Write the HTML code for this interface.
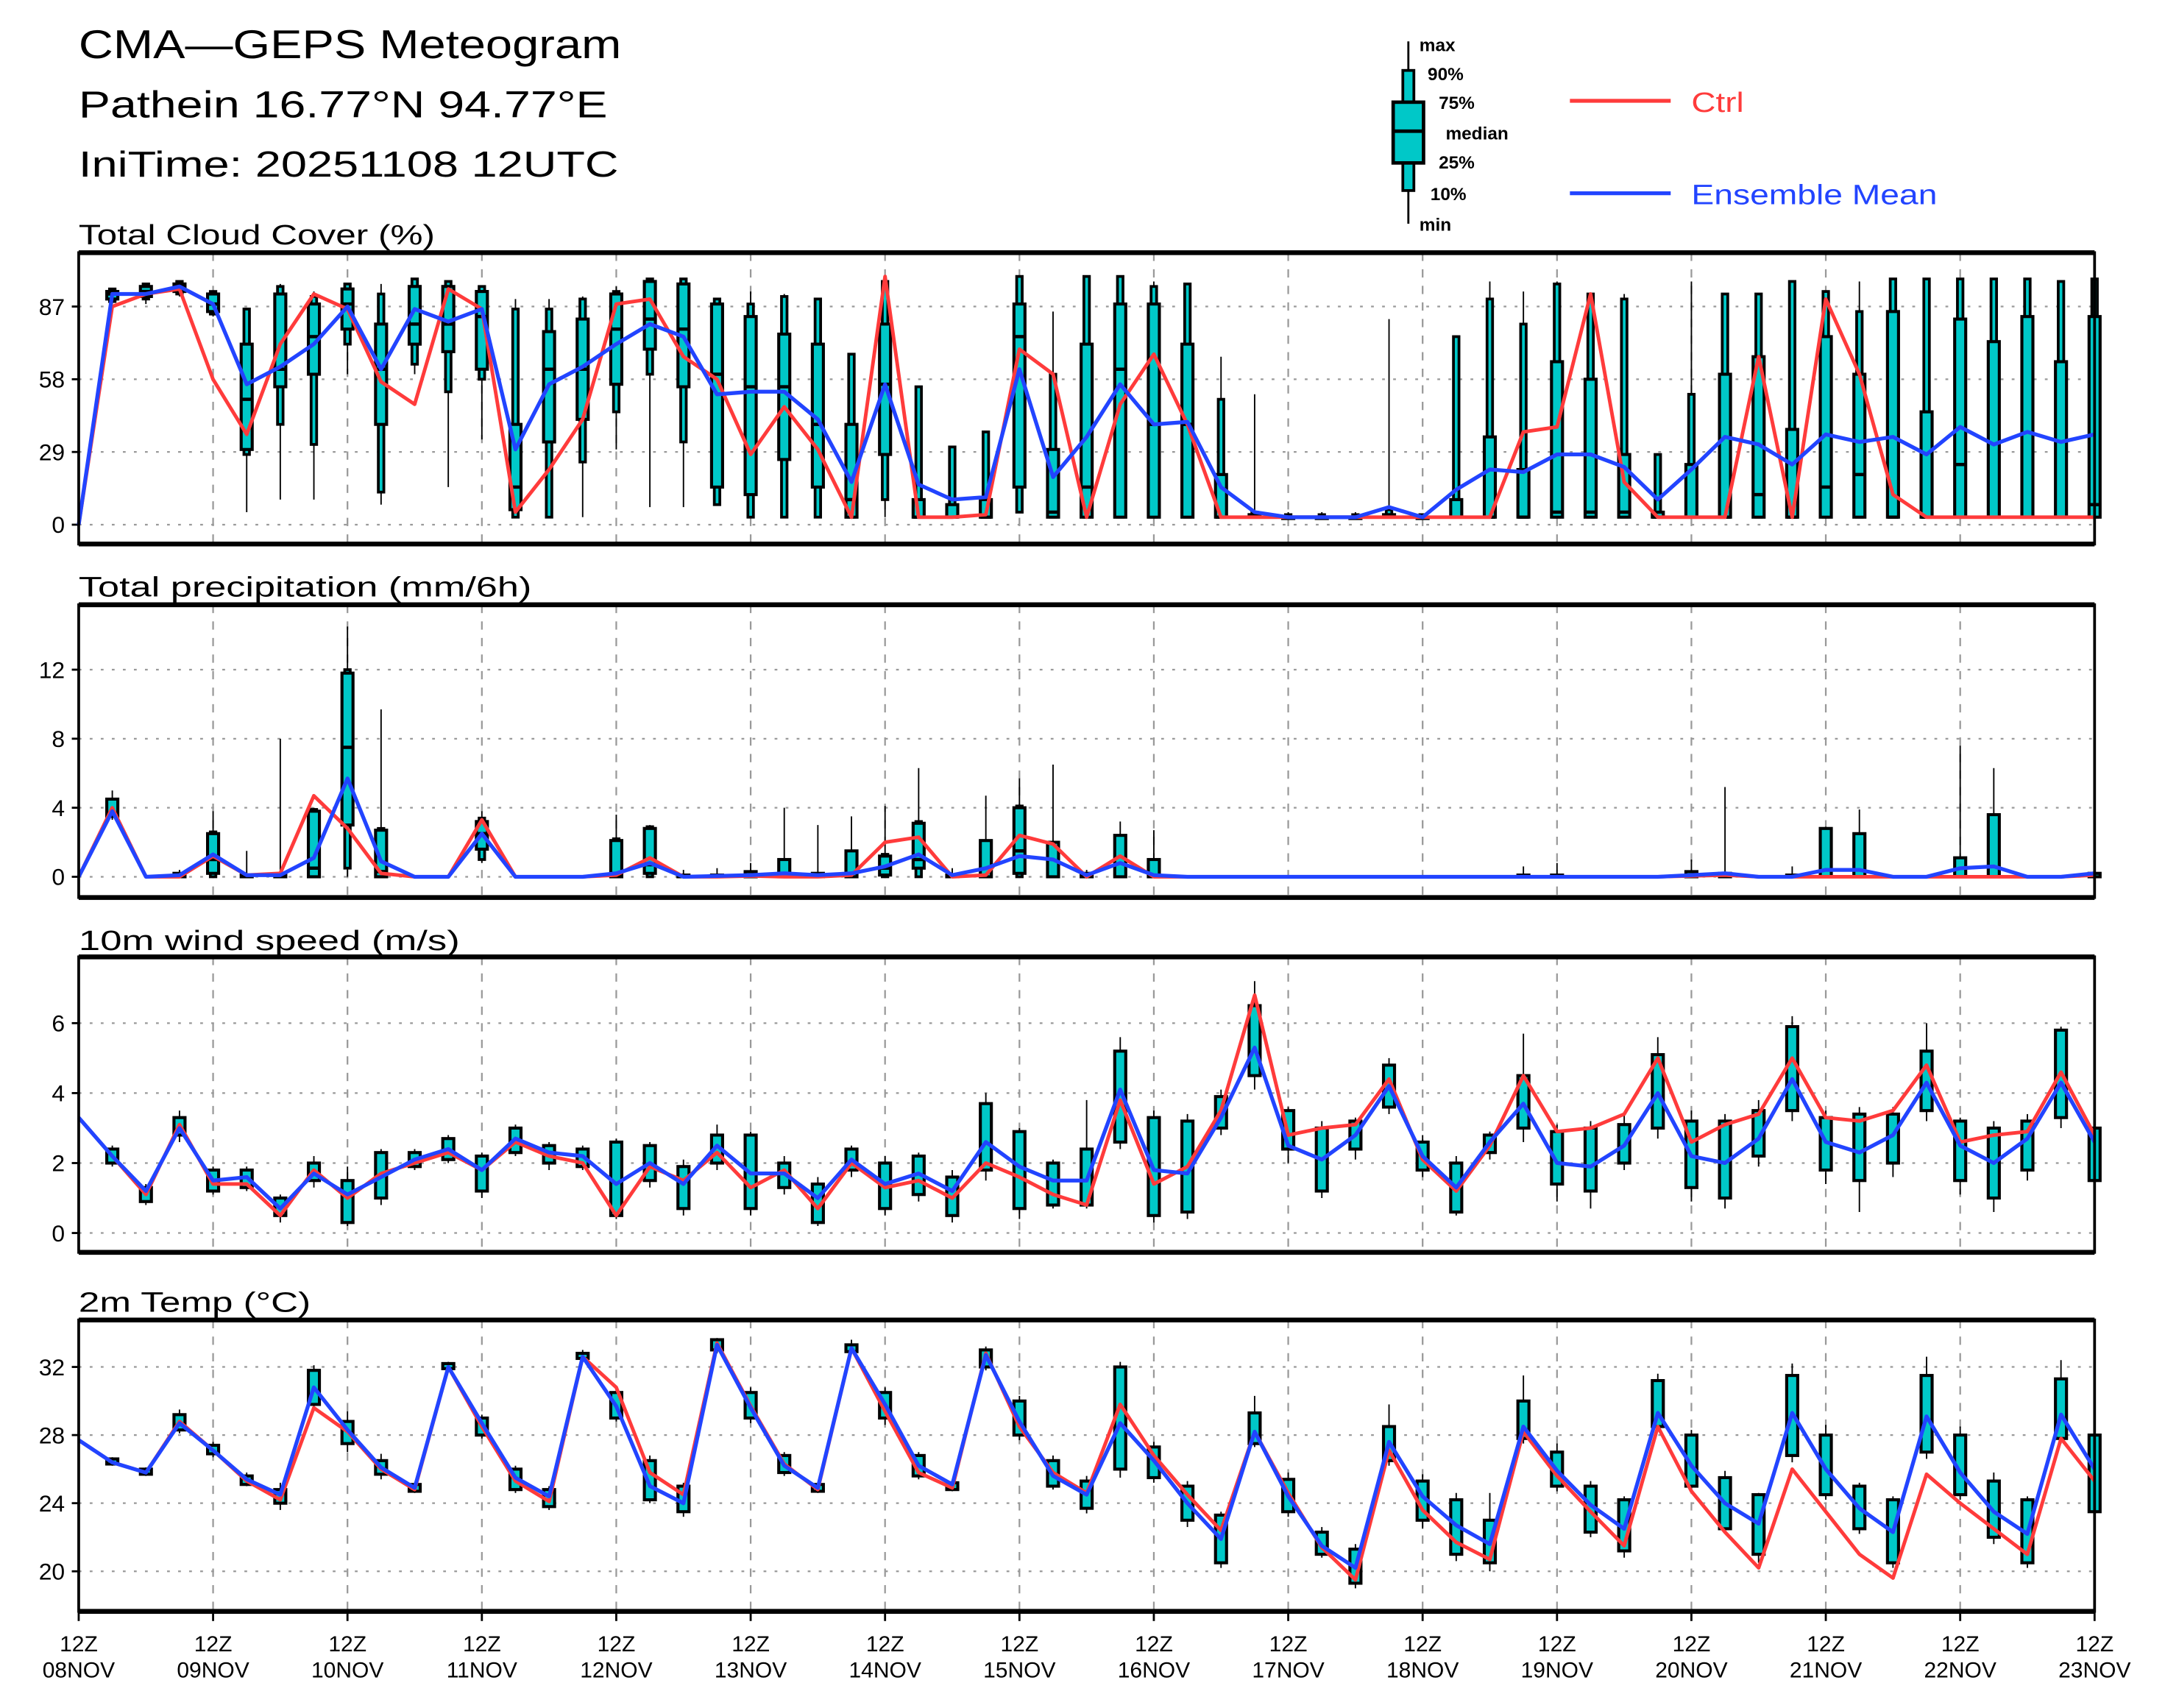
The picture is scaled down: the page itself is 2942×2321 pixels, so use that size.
<!DOCTYPE html>
<html><head><meta charset="utf-8"><title>CMA-GEPS Meteogram</title>
<style>html,body{margin:0;padding:0;background:#fff}svg{display:block}text{font-family:"Liberation Sans",sans-serif}</style>
</head><body>
<svg id="chart" xmlns="http://www.w3.org/2000/svg" width="2942" height="2321" viewBox="0 0 1568 1237" preserveAspectRatio="none">
<rect x="0" y="0" width="1568" height="1237" fill="#fff"/>
<g>
<text x="57" y="42" font-size="29" textLength="393" lengthAdjust="spacingAndGlyphs">CMA—GEPS Meteogram</text>
<text x="57" y="85" font-size="27" textLength="383" lengthAdjust="spacingAndGlyphs">Pathein 16.77°N 94.77°E</text>
<text x="57" y="128" font-size="26" textLength="391" lengthAdjust="spacingAndGlyphs">IniTime: 20251108 12UTC</text>
</g>
<g font-weight="bold" font-size="13">
<line x1="1020" y1="30" x2="1020" y2="162" stroke="#000" stroke-width="1.5"/>
<rect x="1016" y="51" width="8" height="87" fill="#00c8c8" stroke="#000" stroke-width="2"/>
<rect x="1009" y="74" width="22" height="44" fill="#00c8c8" stroke="#000" stroke-width="2.5"/>
<line x1="1009" y1="95" x2="1031" y2="95" stroke="#000" stroke-width="2.5"/>
<text x="1028" y="37">max</text>
<text x="1034" y="58">90%</text>
<text x="1042" y="79">75%</text>
<text x="1047" y="101">median</text>
<text x="1042" y="122">25%</text>
<text x="1036" y="145">10%</text>
<text x="1028" y="167">min</text>
<line x1="1137" y1="73" x2="1210" y2="73" stroke="#ff3b3b" stroke-width="2.8"/>
<text x="1225" y="81" font-size="20" font-weight="normal" fill="#ff3b3b" textLength="38" lengthAdjust="spacingAndGlyphs">Ctrl</text>
<line x1="1137" y1="140" x2="1210" y2="140" stroke="#2244ff" stroke-width="2.8"/>
<text x="1225" y="148" font-size="20" font-weight="normal" fill="#2244ff" textLength="178" lengthAdjust="spacingAndGlyphs">Ensemble Mean</text>
</g>
</svg>
<script>
// ---- data ----
const timeLabels = ["08NOV","09NOV","10NOV","11NOV","12NOV","13NOV","14NOV","15NOV","16NOV","17NOV","18NOV","19NOV","20NOV","21NOV","22NOV","23NOV"];
const cloudTicks = [0,29,58,87];
const precipTicks = [0,4,8,12];
const windTicks = [0,2,4,6];
const tempTicks = [20,24,28,32];

const cloudCtrl = [0,87,92,94,58,36,72,92,86,57,48,94,86,5,22,42,88,90,67,58,28,47,30,3,99,3,3,4,70,60,3,48,68,40,3,3,3,3,3,3,3,3,3,37,39,92,17,3,3,3,67,3,90,60,12,3,3,3,3,3,3];
const cloudMean = [0,92,92,95,88,56,63,72,87,62,86,81,86,30,56,63,72,80,75,52,53,53,42,17,56,16,10,11,62,19,35,56,40,41,15,5,3,3,3,7,3,14,22,21,28,28,23,10,22,35,32,24,36,33,35,28,39,32,37,33,36];
const cloudBoxes = [null,[88,89,90,92,93,94,94],[88,90,91,93,95,96,96],[91,92,93,95,96,97,97],[83,84,85,88,92,93,93],[5,28,30,50,72,86,86],[10,40,55,62,92,95,96],[10,32,60,75,88,91,93],[60,72,78,88,94,96,96],[8,13,40,62,80,92,96],[60,64,72,80,95,98,98],[15,53,69,80,95,97,97],[34,58,62,83,93,95,95],[3,3,6,15,40,86,90],[3,3,33,62,77,86,90],[3,25,42,62,82,90,91],[30,45,56,78,92,93,95],[7,60,70,82,97,98,98],[7,33,55,78,96,98,98],[8,8,15,60,88,90,90],[3,3,12,55,83,88,93],[3,3,26,55,76,91,92],[3,3,15,40,72,90,90],[3,3,3,10,40,68,68],[3,10,28,56,80,97,97],[3,3,3,3,10,55,55],[3,3,3,3,8,31,31],[3,3,3,3,10,37,37],[5,5,15,75,88,99,99],[3,3,3,5,30,60,85],[3,3,3,15,72,99,99],[3,3,3,62,88,99,99],[3,3,3,40,88,95,97],[3,3,3,40,72,96,96],[3,3,3,3,20,50,67],[3,3,3,3,4,5,52],[3,3,3,3,3,4,5],[3,3,3,3,3,4,5],[3,3,3,3,3,4,5],[3,3,3,3,4,6,82],[3,3,3,3,3,4,4],[3,3,3,3,10,75,75],[3,3,3,3,35,90,97],[3,3,3,3,22,80,93],[3,3,3,5,65,96,97],[3,3,3,5,58,92,92],[3,3,3,5,28,90,92],[3,3,3,3,5,28,28],[3,3,3,3,24,52,97],[3,3,3,3,60,92,92],[3,3,3,12,67,92,92],[3,3,3,3,38,97,97],[3,3,3,15,75,93,93],[3,3,3,20,60,85,97],[3,3,3,3,85,98,98],[3,3,3,3,45,98,98],[3,3,3,24,82,98,98],[3,3,3,3,73,98,98],[3,3,3,3,83,98,98],[3,3,3,3,65,97,97],[3,3,3,8,83,98,98]];

const precipCtrl = [0,4.0,0,0,1.2,0.1,0.2,4.7,2.8,0.2,0,0,3.3,0,0,0,0.1,1.1,0,0,0.05,0,0,0.1,2.0,2.3,0,0.1,2.4,1.9,0,1.2,0,0,0,0,0,0,0,0,0,0,0,0,0,0,0,0,0.05,0.1,0,0,0,0,0,0,0,0,0,0,0.1];
const precipMean = [0,3.8,0,0.1,1.3,0.1,0.1,1.1,5.7,0.9,0,0,2.5,0,0,0,0.2,0.8,0,0.05,0.1,0.2,0.1,0.2,0.6,1.3,0.1,0.5,1.2,1.0,0.1,0.8,0.1,0,0,0,0,0,0,0,0,0,0,0,0,0,0,0,0.1,0.2,0,0,0.4,0.4,0,0,0.5,0.6,0,0,0.2];
const precipBoxes = [null,[3.3,3.5,4.5,5.0],null,[0,0,0.2,0.4],[0,0,0.2,1,2.5,2.6,3.8],[0,0,0.1,1.5],[0,0,0.1,8],[0,0,0,0.5,3.8,3.9,4.0],[0,0.5,3,7.5,11.8,12,14.5],[0,0,0,0.3,2.7,2.8,9.7],null,null,[0.8,1,1.6,2.5,3.2,3.4,3.8],null,null,null,[0,0,0,0.2,2.1,2.2,3.6],[0,0,0.2,0.7,2.8,2.9,3.0],[0,0,0.1,0.4],[0,0,0.1,0.5],[0,0,0.3,0.8],[0,0,1,4],[0,0,0.2,3],[0,0,1.5,3.5],[0,0,0.1,0.5,1.2,1.3,4.1],[0,0,0.5,1,3.1,3.2,6.3],[0,0,0.1,0.5],[0,0,2.1,4.7],[0,0,0.2,1.5,4,4.1,5.7],[0,0,2,6.5],[0,0,0.2,0.4],[0,0,2.4,3.2],[0,0,1,2.7],null,null,null,null,null,null,null,null,null,null,[0,0,0.1,0.6],[0,0,0.1,0.8],null,null,null,[0,0,0.3,1],[0,0,0.2,5.2],null,[0,0,0.1,0.6],[0,0,2.8,2.9],[0,0,2.5,3.9],null,null,[0,0,1.1,7.6],[0,0,3.6,6.3],null,null,[0,0,0.2,0.3]];

const windCtrl = [3.3,2.2,1.1,3.1,1.4,1.4,0.5,1.8,1.0,1.7,2.0,2.3,1.8,2.6,2.2,2.0,0.5,1.9,1.5,2.3,1.3,1.8,0.7,2.0,1.3,1.5,1.0,2.0,1.6,1.1,0.8,3.8,1.4,1.9,3.5,6.8,2.8,3.0,3.1,4.4,2.1,1.2,2.5,4.5,2.9,3.0,3.4,5.0,2.6,3.1,3.4,5.0,3.3,3.2,3.5,4.8,2.6,2.8,2.9,4.6,2.8];
const windMean = [3.3,2.2,1.2,3.0,1.5,1.6,0.7,1.7,1.1,1.6,2.1,2.4,1.8,2.7,2.3,2.2,1.4,2.0,1.4,2.5,1.7,1.7,1.0,2.1,1.4,1.7,1.2,2.6,1.9,1.5,1.5,4.1,1.8,1.7,3.3,5.3,2.5,2.1,2.8,4.2,2.2,1.3,2.6,3.7,2.0,1.9,2.5,4.0,2.2,2.0,2.7,4.4,2.6,2.3,2.8,4.3,2.5,2.0,2.7,4.3,2.6];
const windBoxes = [null,[1.9,2.0,2.4,2.5],[0.8,0.9,1.3,1.4],[2.6,2.8,3.3,3.5],[1.1,1.2,1.8,1.9],[1.2,1.3,1.8,1.9],[0.3,0.5,1.0,1.1],[1.3,1.5,2.0,2.2],[0.2,0.3,1.5,1.9],[0.8,1.0,2.3,2.4],[1.8,1.9,2.3,2.4],[2.0,2.1,2.7,2.8],[1.0,1.2,2.2,2.3],[2.2,2.3,3.0,3.1],[1.8,2.0,2.5,2.6],[1.8,1.9,2.4,2.5],[0.4,0.5,2.6,2.7],[1.3,1.5,2.5,2.6],[0.5,0.7,1.9,2.1],[1.8,2.0,2.8,3.1],[0.5,0.7,2.8,2.9],[1.1,1.3,2.0,2.2],[0.2,0.3,1.4,1.6],[1.6,1.8,2.4,2.5],[0.5,0.7,2.0,2.2],[0.9,1.1,2.2,2.3],[0.3,0.5,1.6,1.8],[1.5,1.8,3.7,4.0],[0.4,0.7,2.9,3.0],[0.7,0.8,2.0,2.1],[0.7,0.8,2.4,3.8],[2.4,2.6,5.2,5.6],[0.3,0.5,3.3,3.5],[0.4,0.6,3.2,3.4],[2.8,3.0,3.9,4.1],[4.1,4.5,6.5,7.2],[2.0,2.4,3.5,3.6],[1.0,1.2,3.0,3.2],[2.1,2.4,3.2,3.3],[3.4,3.6,4.8,5.0],[1.6,1.8,2.6,2.8],[0.5,0.6,2.0,2.2],[2.1,2.3,2.8,2.9],[2.6,3.0,4.5,5.7],[0.9,1.4,2.9,3.1],[0.7,1.2,3.0,3.2],[1.8,2.0,3.1,3.4],[2.7,3.0,5.1,5.6],[0.9,1.3,3.2,3.5],[0.7,1.0,3.2,3.4],[1.9,2.2,3.5,3.8],[3.2,3.5,5.9,6.2],[1.4,1.8,3.3,3.5],[0.6,1.5,3.4,3.6],[1.6,2.0,3.4,3.6],[3.2,3.5,5.2,6.0],[1.1,1.5,3.2,3.3],[0.6,1.0,3.0,3.2],[1.5,1.8,3.2,3.4],[3.0,3.3,5.8,5.9],[1.1,1.5,3.0,3.1]];

const tempCtrl = [27.7,26.4,25.8,28.8,27.1,25.3,24.2,29.6,28.2,26.0,24.8,32.0,28.5,25.3,24.1,32.6,30.8,25.8,24.5,33.4,29.7,26.3,24.8,33.1,29.4,25.8,24.9,32.8,28.5,25.8,24.6,29.8,26.8,24.5,22.4,28.2,24.6,21.4,19.5,27.1,23.6,21.7,20.7,28.2,25.6,23.5,21.5,28.5,24.7,22.3,20.2,26.0,23.5,21.0,19.6,25.7,24.0,22.5,21.0,27.8,25.3];
const tempMean = [27.7,26.4,25.8,28.7,27.1,25.4,24.5,30.8,28.3,26.1,24.9,32.0,28.7,25.5,24.4,32.6,29.7,25.0,24.0,33.3,29.6,26.2,24.9,33.1,29.8,26.2,25.1,32.7,28.8,25.6,24.5,28.7,26.5,24.0,21.9,28.2,24.4,21.5,20.2,27.6,24.4,22.7,21.6,28.5,25.9,23.9,22.5,29.3,26.2,24.0,22.8,29.3,26.0,23.7,22.3,29.1,25.8,23.5,22.2,29.2,26.0];
const tempBoxes = [null,[26.2,26.3,26.6,26.7],[25.6,25.7,26.0,26.1],[28.1,28.3,29.2,29.5],[26.7,26.9,27.4,27.6],[25.0,25.1,25.6,25.8],[23.6,24.0,24.8,25.2],[29.4,29.8,31.8,32.1],[27.0,27.5,28.8,29.4],[25.4,25.7,26.5,26.9],[24.6,24.7,25.1,25.2],[31.8,31.9,32.2,32.3],[27.8,28.0,29.0,29.2],[24.6,24.8,26.0,26.2],[23.6,23.8,24.8,25.0],[32.4,32.5,32.8,33.0],[28.8,29.0,30.5,30.8],[24.0,24.2,26.5,26.8],[23.2,23.5,25.0,25.2],[32.8,33.0,33.6,33.7],[28.7,29.0,30.5,30.8],[25.6,25.8,26.8,27.0],[24.6,24.7,25.1,25.2],[32.8,32.9,33.3,33.6],[28.6,29.0,30.5,30.8],[25.4,25.6,26.8,27.0],[24.7,24.8,25.2,25.3],[31.8,32.0,33.0,33.2],[27.7,28.0,30.0,30.3],[24.8,25.0,26.5,26.8],[23.4,23.7,25.3,25.6],[25.5,26.0,32.0,32.3],[25.2,25.5,27.3,27.6],[22.6,23.0,25.0,25.3],[20.2,20.5,23.3,23.5],[27.3,27.5,29.3,30.3],[23.2,23.5,25.4,25.8],[20.8,21.0,22.3,22.6],[19.0,19.3,21.3,21.6],[26.2,26.5,28.5,29.8],[22.5,23.0,25.3,25.7],[20.6,21.0,24.2,24.6],[20.0,20.5,23.0,24.6],[27.5,27.8,30.0,31.5],[24.7,25.0,27.0,27.5],[22.0,22.3,25.0,25.3],[20.8,21.2,24.2,24.4],[28.2,28.5,31.2,31.6],[24.6,25.0,28.0,28.3],[22.2,22.5,25.5,25.9],[20.5,21.0,24.5,24.6],[26.4,26.8,31.5,32.2],[24.2,24.5,28.0,28.6],[22.2,22.5,25.0,25.2],[20.2,20.5,24.2,24.4],[26.6,27.0,31.5,32.6],[24.2,24.5,28.0,28.5],[21.6,22.0,25.3,25.8],[20.2,20.5,24.2,24.4],[27.5,27.8,31.3,32.4],[23.2,23.5,28.0,28.3]];

// ---- layout ----
const svg = document.getElementById('chart');
const NS = 'http://www.w3.org/2000/svg';
const X0 = 57, X1 = 1517, NSTEP = 60;
function xAt(i){ return X0 + (X1 - X0) * i / NSTEP; }
function mk(tag, attrs, parent){ const e = document.createElementNS(NS, tag); for (const k in attrs) e.setAttribute(k, attrs[k]); (parent||svg).appendChild(e); return e; }

const panels = [
 {name:'cloud', title:'Total Cloud Cover (%)', tl:258, top:183, bottom:394, v0:0, p0:380, v1:87, p1:222, ticks:cloudTicks, ctrl:cloudCtrl, mean:cloudMean, boxes:cloudBoxes, titleY:177},
 {name:'precip', title:'Total precipitation (mm/6h)', tl:328, top:438, bottom:650, v0:0, p0:635, v1:12, p1:485, ticks:precipTicks, ctrl:precipCtrl, mean:precipMean, boxes:precipBoxes, titleY:432},
 {name:'wind', title:'10m wind speed (m/s)', tl:276, top:693, bottom:907, v0:0, p0:893, v1:6, p1:741, ticks:windTicks, ctrl:windCtrl, mean:windMean, boxes:windBoxes, titleY:688},
 {name:'temp', title:'2m Temp (°C)', tl:168, top:956, bottom:1167, v0:20, p0:1138, v1:32, p1:990, ticks:tempTicks, ctrl:tempCtrl, mean:tempMean, boxes:tempBoxes, titleY:950}
];

panels.forEach(function(p){
  const y = function(v){ return p.p0 + (v - p.v0) * (p.p1 - p.p0) / (p.v1 - p.v0); };
  const g = mk('g', {});
  
  
  const t = mk('text', {x:57, y:p.titleY, 'font-size':20, textLength:p.tl, lengthAdjust:'spacingAndGlyphs'}, g);
  t.textContent = p.title;
  
  
  for (let d = 1; d < timeLabels.length - 1; d++){
    const gx = xAt(d * 4);
    const l = mk('line', {x1:gx, x2:gx, y1:p.top, y2:p.bottom, stroke:'#999', 'stroke-width':1.2, 'stroke-dasharray':'6,6'}, g);
    
    
  }
  p.ticks.forEach(function(v){
    const ty = y(v);
    const l = mk('line', {x1:X0, x2:X1, y1:ty, y2:ty, stroke:'#999', 'stroke-width':1.2, 'stroke-dasharray':'2,6'}, g);
    
    
    const tk = mk('line', {x1:X0-5, x2:X0, y1:ty, y2:ty, stroke:'#000', 'stroke-width':1.5}, g);
    
    
    const lab = mk('text', {x:X0-10, y:ty+6, 'font-size':17, 'text-anchor':'end'}, g);
    lab.textContent = String(v);
    
    
  });
  p.boxes.forEach(function(b, i){
    if (!b) return;
    const cx = xAt(i);
    const bg = mk('g', {}, g);
    
    
    let mn, lo, hi, mx, p10, p90, med = null;
    if (b.length === 7){ mn=b[0]; p10=b[1]; lo=b[2]; med=b[3]; hi=b[4]; p90=b[5]; mx=b[6]; }
    else { mn=b[0]; lo=b[1]; hi=b[2]; mx=b[3]; p10=lo; p90=hi; }
    mk('line', {x1:cx, x2:cx, y1:y(mx), y2:y(mn), stroke:'#000', 'stroke-width':1}, bg);
    if (b.length === 7) mk('rect', {x:cx-2, y:y(p90), width:4, height:Math.max(1, y(p10)-y(p90)), fill:'#00c8c8', stroke:'#000', 'stroke-width':2}, bg);
    mk('rect', {x:cx-4, y:y(hi), width:8, height:Math.max(1, y(lo)-y(hi)), fill:'#00c8c8', stroke:'#000', 'stroke-width':2.2}, bg);
    if (med !== null) mk('line', {x1:cx-4, x2:cx+4, y1:y(med), y2:y(med), stroke:'#000', 'stroke-width':2.4}, bg);
  });
  const ctrlPts = p.ctrl.map(function(v, i){ return xAt(i).toFixed(1) + ',' + y(v).toFixed(1); }).join(' ');
  const cl = mk('polyline', {points:ctrlPts, fill:'none', stroke:'#ff3b3b', 'stroke-width':2.6, 'stroke-linejoin':'round'}, g);
  
  
  const meanPts = p.mean.map(function(v, i){ return xAt(i).toFixed(1) + ',' + y(v).toFixed(1); }).join(' ');
  const ml = mk('polyline', {points:meanPts, fill:'none', stroke:'#2244ff', 'stroke-width':2.8, 'stroke-linejoin':'round'}, g);
  
  
  const fr = mk('rect', {x:X0, y:p.top, width:X1-X0, height:p.bottom-p.top, fill:'none', stroke:'#000', 'stroke-width':2}, g);
  
  
  mk('line', {x1:X0, x2:X1, y1:p.top, y2:p.top, stroke:'#000', 'stroke-width':3.5}, g);
  mk('line', {x1:X0, x2:X1, y1:p.bottom, y2:p.bottom, stroke:'#000', 'stroke-width':3.5}, g);
});

const xg = mk('g', {'font-size':16});


timeLabels.forEach(function(lab, d){
  const gx = xAt(d * 4);
  mk('line', {x1:gx, x2:gx, y1:1167, y2:1174, stroke:'#000', 'stroke-width':1.5}, xg);
  const t1 = mk('text', {x:gx, y:1196, 'text-anchor':'middle'}, xg);
  t1.textContent = '12Z';
  
  
  const t2 = mk('text', {x:gx, y:1215, 'text-anchor':'middle'}, xg);
  t2.textContent = lab;
  
  
});
</script>
</body></html>
